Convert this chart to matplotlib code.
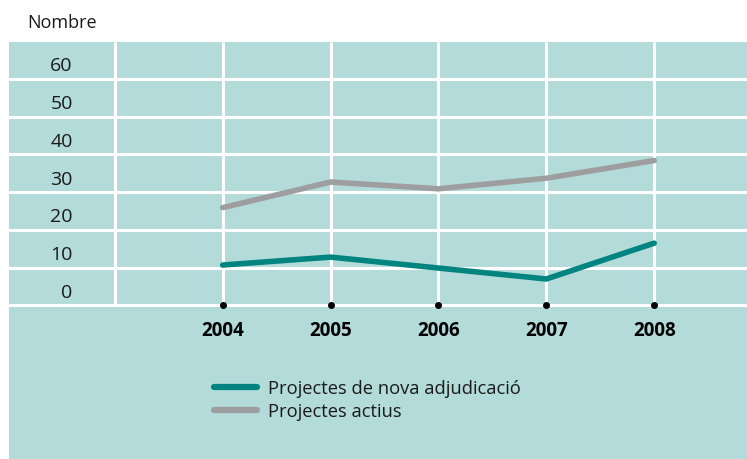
import numpy as np
import matplotlib.pyplot as plt

plt.rcParams['font.family'] = ['Open Sans', 'DejaVu Sans']

# dades
anys = [2004, 2005, 2006, 2007, 2008]
nova_adjudicacio = [10.7, 12.8, 9.9, 7.0, 16.5]
actius = [25.9, 32.7, 30.9, 33.7, 38.4]
valors_y = [0, 10, 20, 30, 40, 50, 60]
etiquetes = ["Projectes de nova adjudicació", "Projectes actius"]

fons = "#b3dbda"
verd = "#00847f"
gris = "#9e9ea0"

W, H = 747, 460
fig = plt.figure(figsize=(W / 100, H / 100), dpi=100)
fig.patch.set_facecolor("white")

# eix que ocupa tota la zona de color
ax = fig.add_axes([9 / W, 0, 1 - 9 / W, (H - 43) / H])
ax.set_facecolor(fons)
ax.set_xlim(2002.02, 2008.86)
ax.set_ylim(-40.7, 69.8)
for s in ax.spines.values():
    s.set_visible(False)
ax.set_xticks([])
ax.set_yticks([])

# quadricula
for v in valors_y:
    ax.axhline(v, color="white", lw=2.2, zorder=1)
ax.vlines([anys[0] - 1] + anys, 0, 69.8, color="white", lw=2.2, zorder=1)

# etiquetes de l'eix y
for v in valors_y:
    ax.text(2002.61, v + 3.6, str(v), ha="right", va="center",
            fontsize=14, color="#1a1a1a")

# anys i punts
ax.plot(anys, [0] * len(anys), "o", color="black", ms=4, zorder=4,
        clip_on=False)
for a in anys:
    ax.text(a, -6.4, str(a), ha="center", va="center", fontsize=13.6,
            fontweight="bold", color="black")

l1, = ax.plot(anys, nova_adjudicacio, color=verd, lw=4, zorder=3,
              solid_capstyle="round", solid_joinstyle="round")
l2, = ax.plot(anys, actius, color=gris, lw=4, zorder=3,
              solid_capstyle="round", solid_joinstyle="round")

leg = fig.legend([l1, l2], etiquetes, loc="upper left",
                 bbox_to_anchor=(214 / W, (H - 380) / H),
                 frameon=False, fontsize=13.2, handlelength=2.35,
                 handletextpad=0.6, labelspacing=0.3, borderpad=0,
                 borderaxespad=0)
for t in leg.get_texts():
    t.set_color("#1a1a1a")
for h in leg.get_lines():
    h.set_linewidth(4.5)

fig.text(27 / W, 1 - 23 / H, "Nombre", ha="left", va="center",
         fontsize=13, color="#1a1a1a")

fig.savefig("out.png", dpi=100, facecolor="white")
